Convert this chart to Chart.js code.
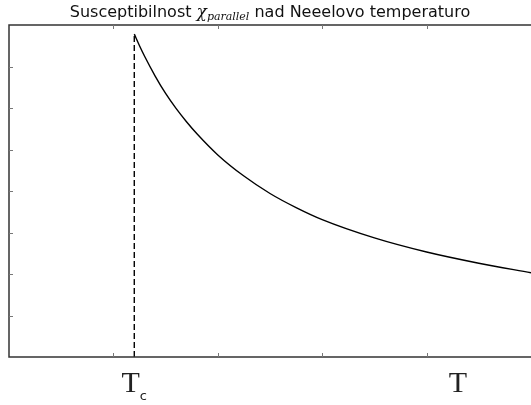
<!DOCTYPE html>
<html>
<head>
<meta charset="utf-8">
<script src="https://cdn.jsdelivr.net/npm/chart.js@4"></script>
<style>
  html, body { margin: 0; padding: 0; background: #fff; }
  #wrap { width: 531px; height: 405px; position: relative; }
</style>
</head>
<body>
<div id="wrap"><canvas id="c"></canvas></div>
<script>
// susceptibility curve above the Neel temperature
const temps = [1.2, 1.25, 1.3, 1.4, 1.5, 1.6, 1.7, 1.8, 2.0, 2.25, 2.5, 2.75, 3.0, 3.5, 4.0, 4.5, 5.0];
const chi   = [7.78, 7.50, 7.24, 6.77, 6.35, 5.99, 5.67, 5.38, 4.87, 4.36, 3.94, 3.60, 3.31, 2.87, 2.53, 2.26, 2.03];

const tc = 1.2;
const xTicks = [1, 2, 3, 4];
const yTicks = [1, 2, 3, 4, 5, 6, 7];

const labelValues = [1.2, 4.3];
const labelMain = ['T', 'T'];
const labelSub = ['c', ''];

const titleParts = ['Susceptibilnost ', '\u03c7', 'parallel', ' nad Neeelovo temperaturo'];

const frame = {
  id: 'frame',
  afterDraw(chart) {
    const ctx = chart.ctx;
    const a = chart.chartArea;
    const xs = chart.scales.x, ys = chart.scales.y;
    ctx.save();
    // axes box (right side falls off the canvas)
    ctx.strokeStyle = '#333';
    ctx.lineWidth = 1.5;
    ctx.beginPath();
    ctx.moveTo(a.right + 2, a.top);
    ctx.lineTo(a.left, a.top);
    ctx.lineTo(a.left, a.bottom);
    ctx.lineTo(a.right + 2, a.bottom);
    ctx.stroke();

    // inward ticks
    ctx.strokeStyle = '#777';
    ctx.lineWidth = 1;
    ctx.beginPath();
    xTicks.forEach(v => {
      const px = Math.round(xs.getPixelForValue(v)) + 0.5;
      ctx.moveTo(px, a.top); ctx.lineTo(px, a.top + 4);
      ctx.moveTo(px, a.bottom); ctx.lineTo(px, a.bottom - 4);
    });
    yTicks.forEach(v => {
      const py = Math.round(ys.getPixelForValue(v)) + 0.5;
      ctx.moveTo(a.left, py); ctx.lineTo(a.left + 4, py);
    });
    ctx.stroke();

    // T_c and T labels
    ctx.fillStyle = '#222';
    ctx.textBaseline = 'alphabetic';
    labelValues.forEach((v, i) => {
      const px = xs.getPixelForValue(v);
      ctx.font = '30px "Liberation Serif"';
      const w1 = ctx.measureText(labelMain[i]).width;
      ctx.font = '13px "DejaVu Sans"';
      const w2 = labelSub[i] ? ctx.measureText(labelSub[i]).width : 0;
      const x0 = px - (w1 + w2) / 2;
      ctx.font = '30px "Liberation Serif"';
      ctx.textAlign = 'left';
      ctx.fillText(labelMain[i], x0, 392);
      if (labelSub[i]) {
        ctx.font = '13px "DejaVu Sans"';
        ctx.fillText(labelSub[i], x0 + w1, 400);
      }
    });

    // title with math chi_parallel
    const fonts = ['16px "DejaVu Sans"', 'italic 17px "DejaVu Serif"', 'italic 11px "DejaVu Serif"', '16px "DejaVu Sans"'];
    const dy = [0, 0, 3, 0];
    let total = 0;
    const widths = titleParts.map((t, i) => { ctx.font = fonts[i]; const w = ctx.measureText(t).width; total += w; return w; });
    let x = (a.left + a.right) / 2 - total / 2;
    ctx.fillStyle = '#111';
    titleParts.forEach((t, i) => {
      ctx.font = fonts[i];
      ctx.fillText(t, x, 17 + dy[i]);
      x += widths[i];
    });
    ctx.restore();
  }
};

new Chart(document.getElementById('c'), {
  type: 'line',
  data: {
    datasets: [
      {
        data: temps.map((t, i) => ({ x: t, y: chi[i] })),
        borderColor: '#000',
        borderWidth: 1.4,
        pointRadius: 0,
        cubicInterpolationMode: 'monotone',
        fill: false
      },
      {
        data: [{ x: tc, y: 0 }, { x: tc, y: chi[0] }],
        borderColor: '#000',
        borderWidth: 1.4,
        borderDash: [6, 3],
        pointRadius: 0,
        fill: false
      }
    ]
  },
  options: {
    responsive: true,
    maintainAspectRatio: false,
    animation: false,
    events: [],
    layout: { padding: { left: 9, top: 25, right: 0, bottom: 48 } },
    plugins: { legend: { display: false }, title: { display: false }, tooltip: { enabled: false } },
    scales: {
      x: { type: 'linear', min: 0, max: 5, display: false },
      y: { type: 'linear', min: 0, max: 8, display: false }
    }
  },
  plugins: [frame]
});
</script>
</body>
</html>
